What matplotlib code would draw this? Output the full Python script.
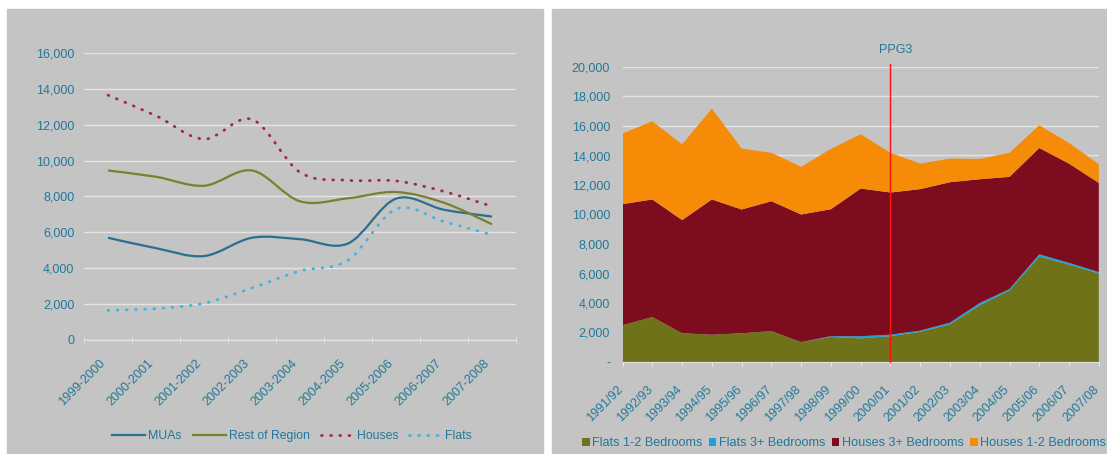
import matplotlib
matplotlib.use("Agg")
import matplotlib.pyplot as plt
import matplotlib.transforms as mtransforms
from matplotlib.path import Path
from matplotlib.patches import PathPatch, Rectangle, Patch
from matplotlib.lines import Line2D
from matplotlib.ticker import FuncFormatter, FixedLocator
import numpy as np

plt.rcParams['font.family'] = ['Liberation Sans', 'DejaVu Sans']

## left chart: completions by area / type
years_left = ["1999-2000", "2000-2001", "2001-2002", "2002-2003", "2003-2004",
              "2004-2005", "2005-2006", "2006-2007", "2007-2008"]
muas = [5700, 5120, 4680, 5700, 5620, 5380, 7880, 7260, 6880]
rest_of_region = [9450, 9100, 8600, 9450, 7730, 7900, 8250, 7650, 6450]
houses = [13650, 12500, 11200, 12300, 9350, 8900, 8870, 8280, 7450]
flats = [1650, 1750, 2050, 2900, 3850, 4450, 7300, 6600, 5860]

## right chart: stacked completions by dwelling type
years_right = ["1991/92", "1992/93", "1993/94", "1994/95", "1995/96", "1996/97",
               "1997/98", "1998/99", "1999/00", "2000/01", "2001/02", "2002/03",
               "2003/04", "2004/05", "2005/06", "2006/07", "2007/08"]
flats_12 = [2500, 3050, 1950, 1850, 1950, 2100, 1350, 1700, 1600, 1750, 2050,
            2550, 3850, 4850, 7150, 6600, 6000]
flats_3 = [0, 0, 0, 0, 0, 0, 0, 50, 150, 100, 80, 120, 150, 100, 150, 120, 100]
houses_3 = [8200, 7970, 7670, 9170, 8390, 8800, 8650, 8610, 10010, 9640, 9590,
            9520, 8390, 7600, 7210, 6730, 6040]
houses_12 = [4790, 5300, 5140, 6160, 4130, 3280, 3230, 4090, 3680, 2690, 1730,
             1600, 1380, 1630, 1540, 1400, 1270]
ppg3_year = "2000/01"

TXT = '#21789a'
BG = '#c4c4c4'
GRID = '#e4e4e4'


def smooth_path(xs, ys):
    # bezier segments through the points, like a "smoothed line" in excel
    pts = np.column_stack([xs, ys]).astype(float)
    ext = np.vstack([pts[0], pts, pts[-1]])
    verts = [pts[0]]
    codes = [Path.MOVETO]
    for i in range(1, len(ext) - 2):
        p0, p1, p2, p3 = ext[i - 1], ext[i], ext[i + 1], ext[i + 2]
        verts += [p1 + (p2 - p0) / 6, p2 - (p3 - p1) / 6, p2]
        codes += [Path.CURVE4] * 3
    return Path(verts, codes)


def shift_labels(ax, dx, dy):
    # nudge rotated tick labels (offsets in pixels)
    off = mtransforms.ScaledTranslation(dx / 100, dy / 100, ax.figure.dpi_scale_trans)
    for lab in ax.get_xticklabels():
        lab.set_transform(lab.get_transform() + off)


def thousands(v, pos):
    return f"{int(v):,}"


fig = plt.figure(figsize=(11.07, 4.54), dpi=100)
fig.patches.append(Rectangle((7 / 1107, 0), 536 / 1107, 445 / 454,
                             transform=fig.transFigure, color=BG, zorder=-10))
fig.patches.append(Rectangle((552 / 1107, 0), 555 / 1107, 445 / 454,
                             transform=fig.transFigure, color=BG, zorder=-10))

# ---- left: smoothed lines
ax = fig.add_axes([84 / 1107, 114 / 454, 432 / 1107, 287 / 454])
ax.patch.set_visible(False)
x = np.arange(len(years_left))
dots = (0, (0.3, 3.0))
series = [
    (muas, "MUAs", dict(color='#2a6f8e', lw=1.6, ls='-')),
    (rest_of_region, "Rest of Region", dict(color='#7b802c', lw=1.6, ls='-')),
    (houses, "Houses", dict(color='#a3264d', lw=2.0, ls=dots, capstyle='round')),
    (flats, "Flats", dict(color='#43b2e0', lw=2.0, ls=dots, capstyle='round')),
]
handles = []
for vals, name, st in series:
    p = PathPatch(smooth_path(x, vals), fill=False, edgecolor=st['color'],
                  lw=st['lw'], ls=st['ls'], capstyle=st.get('capstyle', 'butt'), zorder=3)
    ax.add_patch(p)
    handles.append(Line2D([], [], color=st['color'], lw=st['lw'], ls=st['ls'],
                          dash_capstyle=st.get('capstyle', 'butt')))
ax.set_xlim(-0.5, len(years_left) - 0.5)
ax.set_ylim(0, 16000)
ax.yaxis.set_major_locator(FixedLocator(np.arange(0, 16001, 2000)))
ax.yaxis.set_major_formatter(FuncFormatter(thousands))
ax.set_xticks(x)
ax.set_xticklabels(years_left, rotation=45, ha='right', rotation_mode='anchor')
ax.set_xticks(np.arange(len(years_left) + 1) - 0.5, minor=True)
ax.tick_params(axis='x', which='major', length=0, pad=9, labelsize=9, labelcolor=TXT)
ax.tick_params(axis='x', which='minor', length=4, color='#e8e8e8', direction='inout')
ax.tick_params(axis='y', length=0, pad=7, labelsize=9, labelcolor=TXT)
shift_labels(ax, -9, -5)
ax.grid(axis='y', color=GRID, lw=1)
ax.set_axisbelow(True)
for s in ['top', 'right', 'left']:
    ax.spines[s].set_visible(False)
ax.spines['bottom'].set_color('#e4e4e4')
fig.legend(handles, [s[1] for s in series], loc='center', bbox_to_anchor=(292 / 1107, 1 - 436 / 454),
           ncol=4, frameon=False, fontsize=8.8, labelcolor=TXT, handlelength=2.7,
           handletextpad=0.25, columnspacing=0.9)

# ---- right: stacked area
ax2 = fig.add_axes([622.6 / 1107, 92 / 454, 476.2 / 1107, 295 / 454])
ax2.patch.set_visible(False)
xr = np.arange(len(years_right))
labels = ["Flats 1-2 Bedrooms", "Flats 3+ Bedrooms", "Houses 3+ Bedrooms", "Houses 1-2 Bedrooms"]
colors = ['#6f7219', '#1aa3da', '#7d0c1f', '#f68b08']
ax2.stackplot(xr, flats_12, flats_3, houses_3, houses_12, colors=colors, labels=labels,
              lw=0, zorder=2)
ax2.set_xlim(0, len(years_right) - 1)
ax2.set_ylim(0, 20000)
ax2.yaxis.set_major_locator(FixedLocator(np.arange(0, 20001, 2000)))
ax2.yaxis.set_major_formatter(FuncFormatter(lambda v, p: "-" if v == 0 else f"{int(v):,}"))
ax2.set_xticks(xr)
ax2.set_xticklabels(years_right, rotation=45, ha='right', rotation_mode='anchor')
ax2.tick_params(axis='x', length=3, color='#e8e8e8', pad=9, labelsize=9, labelcolor=TXT)
ax2.tick_params(axis='y', length=0, pad=9, labelsize=9, labelcolor=TXT)
shift_labels(ax2, -6, -5)
ax2.grid(axis='y', color=GRID, lw=1, zorder=0)
ax2.set_axisbelow(True)
for s in ['top', 'right', 'left']:
    ax2.spines[s].set_visible(False)
ax2.spines['bottom'].set_color('#e4e4e4')
ix = years_right.index(ppg3_year)
ax2.axvline(ix, ymin=0, ymax=1.01, color='#ff1010', lw=1, zorder=4, clip_on=False)
ax2.annotate("PPG3", xy=(ix, 1), xycoords=('data', 'axes fraction'), xytext=(4, 12),
             textcoords='offset points', ha='center', va='center', fontsize=9, color=TXT)
hs = [Patch(facecolor=c, edgecolor='none') for c in colors]
fig.legend(hs, labels, loc='center', bbox_to_anchor=(844 / 1107, 1 - 443 / 454),
           ncol=4, frameon=False, fontsize=9.1, labelcolor=TXT, handlelength=0.6,
           handleheight=0.6, handletextpad=0.2, columnspacing=0.5)

fig.savefig("out.png", dpi=100)
